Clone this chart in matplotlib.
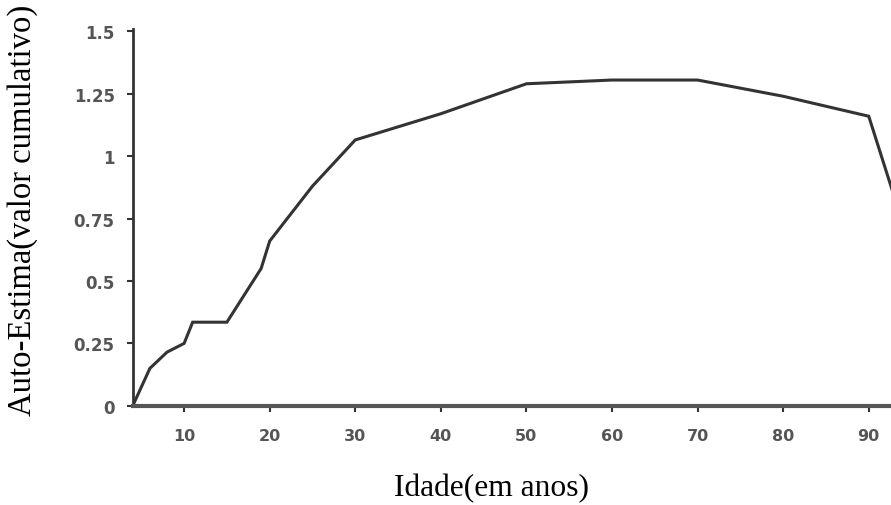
import matplotlib
matplotlib.use("Agg")
import matplotlib.pyplot as plt

# Data
idade = [4, 6, 8, 10, 11, 15, 19, 20, 25, 30, 40, 50, 60, 70, 80, 90, 95]
auto_estima = [0.0, 0.15, 0.215, 0.25, 0.335, 0.335, 0.55, 0.66, 0.88, 1.065,
               1.17, 1.29, 1.305, 1.305, 1.24, 1.16, 0.62]

x_ticks = [10, 20, 30, 40, 50, 60, 70, 80, 90]
y_ticks = [0, 0.25, 0.5, 0.75, 1, 1.25, 1.5]
y_tick_labels = ["0", "0.25", "0.5", "0.75", "1", "1.25", "1.5"]

fig = plt.figure(figsize=(8.91, 5.06), dpi=100)
ax = fig.add_axes([0.149, 0.196, 0.851, 0.745])

ax.plot(idade, auto_estima, color="#333333", linewidth=2.2, solid_joinstyle="miter")

ax.set_xlim(4, 92.6)
ax.set_ylim(0, 1.51)

ax.set_xticks(x_ticks)
ax.set_yticks(y_ticks)
ax.set_yticklabels(y_tick_labels)

for s in ["top", "right"]:
    ax.spines[s].set_visible(False)
ax.spines["left"].set_color("#333333")
ax.spines["left"].set_linewidth(2.0)
ax.spines["bottom"].set_color("#555555")
ax.spines["bottom"].set_linewidth(3.0)

ax.tick_params(axis="both", direction="out", length=4, width=1.5, color="#333333",
               labelcolor="#555555")
ax.tick_params(axis="x", labelsize=11.5, pad=12)
ax.tick_params(axis="y", labelsize=12, pad=9)
for lab in ax.get_xticklabels() + ax.get_yticklabels():
    lab.set_fontfamily("DejaVu Sans")
    lab.set_fontweight("bold")

fig.text(0.552, 0.034, "Idade(em anos)", fontsize=22.7, family="Liberation Serif",
         ha="center", va="center")
fig.text(0.025, 0.585, "Auto-Estima(valor cumulativo)", rotation=90, fontsize=23.5,
         family="Liberation Serif", ha="center", va="center")

fig.savefig("out.png", dpi=100)
